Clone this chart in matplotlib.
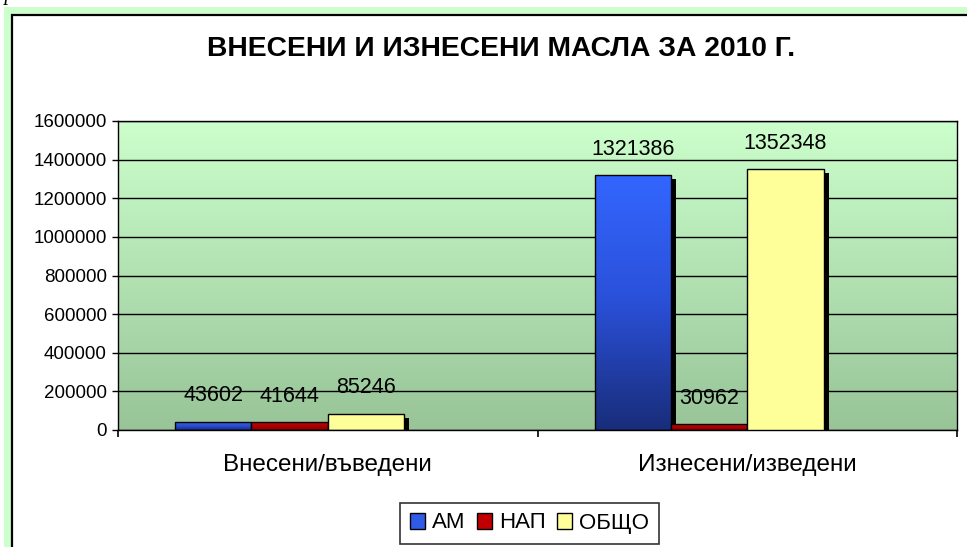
import numpy as np
import matplotlib
matplotlib.use('Agg')
import matplotlib.pyplot as plt
from matplotlib.patches import Rectangle
from matplotlib.colors import LinearSegmentedColormap
from matplotlib.transforms import offset_copy

# Данни
categories = ['Внесени/въведени', 'Изнесени/изведени']
series = ['АМ', 'НАП', 'ОБЩО']
am = [43602, 1321386]
nap = [41644, 30962]
obshto = [85246, 1352348]
yticks = [0, 200000, 400000, 600000, 800000, 1000000, 1200000, 1400000, 1600000]
title = 'ВНЕСЕНИ И ИЗНЕСЕНИ МАСЛА ЗА 2010 Г.'

plt.rcParams['font.family'] = ['Liberation Sans', 'DejaVu Sans']

W, H = 967, 547
fig = plt.figure(figsize=(W / 100, H / 100), dpi=100)
fig.patch.set_facecolor('white')


def fx(px):
    return px / W


def fy(py):
    return 1 - py / H


# зелена рамка и бяла област на диаграмата
fig.add_artist(Rectangle((fx(4), -0.1), 1, fy(7) + 0.1, transform=fig.transFigure,
                         facecolor='#ccffcc', edgecolor='none', zorder=-3))
fig.add_artist(Rectangle((fx(12), -0.1), 1, fy(15) + 0.1, transform=fig.transFigure,
                         facecolor='white', edgecolor='black', lw=1.6, zorder=-2))

# отрязан текст най-горе
fig.text(fx(-40), 1.0, 'Фигура 1.', fontsize=15, style='italic',
         family=['Liberation Serif', 'DejaVu Serif'], va='baseline', ha='left')

fig.text(fx(501), fy(49), title, ha='center', va='center', fontsize=20.3, weight='bold')

ax = fig.add_axes([fx(118), fy(430), fx(957) - fx(118), (430 - 121) / H])

# градиентен фон
bg = LinearSegmentedColormap.from_list('bg', ['#ccffcc', '#98c498'])
ax.imshow(np.linspace(0, 1, 256).reshape(-1, 1), cmap=bg, extent=[0, 1, 0, 1],
          transform=ax.transAxes, aspect='auto', zorder=0)

cmaps = [
    LinearSegmentedColormap.from_list('am', ['#3366ff', '#2a50d8', '#192d7a']),
    LinearSegmentedColormap.from_list('nap', ['#d40000', '#b00000', '#800000']),
    LinearSegmentedColormap.from_list('ob', ['#ffff99', '#ffff99']),
]
solid = ['#2f5be8', '#c00000', '#ffff99']

grad = np.linspace(0, 1, 128).reshape(-1, 1)
w = 0.182
offsets = [-1.5 * w, -0.5 * w, 0.5 * w]
values = [am, nap, obshto]
shadow_tr = offset_copy(ax.transData, fig=fig, x=5, y=-4, units='dots')

z = 2.0
for i in range(len(categories)):
    for s in range(len(series)):
        v = values[s][i]
        x0 = i + offsets[s] - w / 2
        ax.add_patch(Rectangle((x0, 0), w, v, facecolor='black', edgecolor='none',
                               transform=shadow_tr, zorder=z))
        im = ax.imshow(grad, cmap=cmaps[s], extent=[x0, x0 + w, 0, v], aspect='auto',
                       zorder=z + 0.01, interpolation='bilinear')
        rect = Rectangle((x0, 0), w, v, facecolor='none', edgecolor='black', lw=1,
                         zorder=z + 0.02)
        ax.add_patch(rect)
        im.set_clip_path(rect)
        ax.annotate(str(v), (x0 + w / 2, v), xytext=(0, 11), textcoords='offset points',
                    ha='center', va='bottom', fontsize=15.5, zorder=10)
        z += 0.1

ax.set_xlim(-0.5, 1.5)
ax.set_ylim(0, 1600000)
ax.set_aspect('auto')

ax.set_yticks(yticks)
ax.set_yticklabels([str(t) for t in yticks], fontsize=13.5)
ax.tick_params(axis='y', length=4, width=1, pad=4)
ax.set_xticks([-0.5, 0.5, 1.5])
ax.set_xticklabels(['', '', ''])
ax.tick_params(axis='x', which='major', length=5, width=1.2)
ax.set_xticks([0, 1], minor=True)
ax.set_xticklabels(categories, minor=True, fontsize=17.5)
ax.tick_params(axis='x', which='minor', length=0, pad=17)

ax.set_axisbelow(True)
ax.yaxis.grid(True, color='black', lw=1)
for sp in ax.spines.values():
    sp.set_color('black')
    sp.set_linewidth(1)

handles = [Rectangle((0, 0), 1, 1, facecolor=c, edgecolor='black', lw=1) for c in solid]
leg = fig.legend(handles, series, loc='center', bbox_to_anchor=(fx(529.5), fy(523)),
                 ncol=3, frameon=True, fancybox=False, edgecolor='black', fontsize=16,
                 handlelength=0.7, handleheight=0.7, handletextpad=0.3,
                 columnspacing=0.5, borderpad=0.45)
leg.get_frame().set_linewidth(1.2)
leg.set_zorder(5)

fig.savefig('out.png', dpi=100)
